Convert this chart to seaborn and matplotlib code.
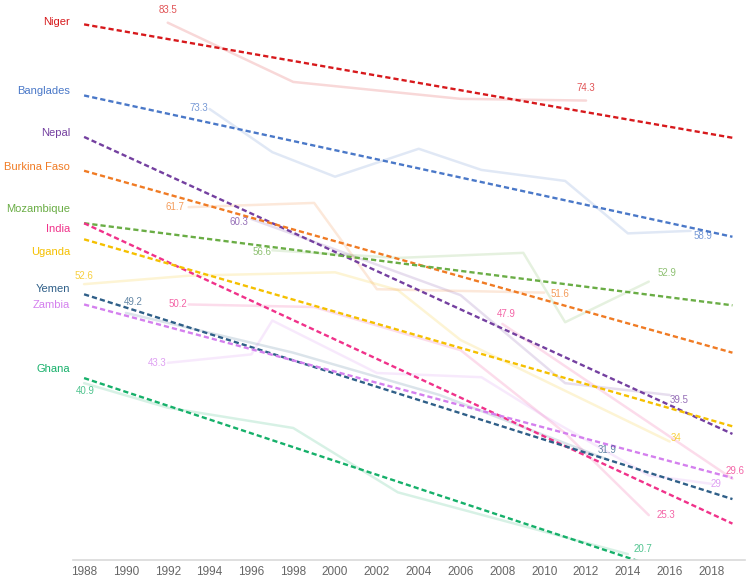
import matplotlib
matplotlib.use("Agg")
import pandas as pd
import matplotlib.pyplot as plt
import seaborn as sns

# =========================================================
# DATA
# =========================================================

countries = [
    "Niger", "Banglades", "Nepal", "Burkina Faso", "Mozambique",
    "India", "Uganda", "Yemen", "Zambia", "Ghana"
]

colors = [
    "#d7191c", "#4a78c8", "#7440a0", "#f07b24", "#6aad45",
    "#f0328a", "#f5c000", "#2f5f88", "#d480ee", "#16b06a"
]

niger_years = [1992, 1998, 2006, 2012]
niger_values = [83.5, 76.5, 74.5, 74.3]

banglades_years = [1994, 1997, 2000, 2004, 2007, 2011, 2014, 2017]
banglades_values = [73.3, 68.2, 65.3, 68.6, 66.1, 64.8, 58.6, 58.9]

nepal_years = [1996, 2001, 2006, 2011, 2016]
nepal_values = [60.3, 55.8, 51.3, 40.9, 39.5]

burkina_years = [1993, 1999, 2002, 2010]
burkina_values = [61.7, 62.2, 52.0, 51.6]

mozambique_years = [1997, 2003, 2009, 2011, 2015]
mozambique_values = [56.6, 55.7, 56.3, 48.1, 52.9]

india_years = [1993, 1999, 2006, 2011, 2015]
india_values = [50.2, 49.9, 44.8, 35.0, 25.3]

india2_years = [2008, 2019]
india2_values = [47.9, 29.6]

uganda_years = [1988, 1993, 2000, 2003, 2006, 2009, 2013, 2016]
uganda_values = [52.6, 53.6, 54.0, 51.9, 46.0, 42.4, 37.6, 34.0]

yemen_years = [1990, 1998, 2005, 2013]
yemen_values = [49.2, 44.5, 39.5, 31.9]

zambia_years = [1992, 1996, 1997, 2002, 2007, 2010, 2015, 2018]
zambia_values = [43.3, 44.3, 48.3, 42.1, 41.6, 37.0, 30.0, 29.0]

ghana_years = [1988, 1992, 1998, 2003, 2014]
ghana_values = [40.9, 38.0, 35.6, 28.0, 20.7]

# linear trend per country, 1988 -> 2019
trend_years = [1988, 2019]
trend_start = [83.3, 74.9, 70.0, 66.0, 59.8, 59.8, 57.9, 51.4, 50.2, 41.5]
trend_end = [69.9, 58.2, 34.9, 44.5, 50.1, 24.3, 35.8, 27.2, 29.7, 16.2]

year_ticks = list(range(1988, 2019, 2))

# =========================================================
# BUILD TABLES
# =========================================================

series = [
    ("Niger", niger_years, niger_values),
    ("Banglades", banglades_years, banglades_values),
    ("Nepal", nepal_years, nepal_values),
    ("Burkina Faso", burkina_years, burkina_values),
    ("Mozambique", mozambique_years, mozambique_values),
    ("India", india_years, india_values),
    ("India (2)", india2_years, india2_values),
    ("Uganda", uganda_years, uganda_values),
    ("Yemen", yemen_years, yemen_values),
    ("Zambia", zambia_years, zambia_values),
    ("Ghana", ghana_years, ghana_values),
]

color_of = dict(zip(countries, colors))
color_of["India (2)"] = color_of["India"]

actual = pd.concat(
    [pd.DataFrame({"series": name, "year": yrs, "value": vals})
     for name, yrs, vals in series],
    ignore_index=True
)

trend = pd.concat(
    [pd.DataFrame({"country": c, "year": trend_years, "value": [s, e]})
     for c, s, e in zip(countries, trend_start, trend_end)],
    ignore_index=True
)

# label offsets in pixels (dx, dy up)
name_offsets = {
    "Niger": 2, "Banglades": 4, "Nepal": 4, "Burkina Faso": 4,
    "Mozambique": 14, "India": -6, "Uganda": -13, "Yemen": 5,
    "Zambia": -1, "Ghana": 9
}

value_offsets = {
    ("Niger", 0): (0, 13), ("Niger", -1): (0, 13),
    ("Banglades", 0): (-10, 1), ("Banglades", -1): (12, -5),
    ("Nepal", 0): (-12, -3), ("Nepal", -1): (9, -5),
    ("Burkina Faso", 0): (-13, 0), ("Burkina Faso", -1): (15, -1),
    ("Mozambique", 0): (-10, -2), ("Mozambique", -1): (18, 9),
    ("India", 0): (-10, 0), ("India", -1): (17, 0),
    ("India (2)", 0): (4, 10), ("India (2)", -1): (3, 8),
    ("Uganda", 0): (0, 8), ("Uganda", -1): (10, 4),
    ("Yemen", 0): (7, 11), ("Yemen", -1): (0, 9),
    ("Zambia", 0): (-10, 0), ("Zambia", -1): (8, 0),
    ("Ghana", 0): (1, -8), ("Ghana", -1): (15, 5),
}

# =========================================================
# STYLE
# =========================================================

sns.set_style("white")
plt.rcParams["font.family"] = ["Liberation Sans", "DejaVu Sans"]

fig = plt.figure(figsize=(7.5, 5.8), dpi=100)
ax = fig.add_axes([73 / 750, 20 / 580, 672 / 750, 550 / 580])

# =========================================================
# FAINT ACTUAL LINES
# =========================================================

sns.lineplot(
    data=actual, x="year", y="value", hue="series",
    palette=color_of, estimator=None, sort=False,
    linewidth=1.8, alpha=0.17, legend=False, ax=ax
)

# =========================================================
# DASHED TREND LINES
# =========================================================

for c in countries:
    sns.lineplot(
        data=trend[trend["country"] == c], x="year", y="value",
        color=color_of[c], linewidth=1.7, linestyle=(0, (2.2, 1.3)),
        ax=ax, legend=False
    )

# =========================================================
# LABELS
# =========================================================

for c, s in zip(countries, trend_start):
    ax.annotate(
        c, xy=(trend_years[0], s), xytext=(-14, name_offsets[c]),
        textcoords="offset pixels", ha="right", va="center",
        fontsize=8, color=color_of[c], annotation_clip=False
    )

for name, yrs, vals in series:
    for i in (0, -1):
        dx, dy = value_offsets[(name, i)]
        ha = "right" if dx < -5 else ("left" if dx > 5 else "center")
        if ha == "right":
            dx += 9
        elif ha == "left":
            dx -= 9
        ax.annotate(
            f"{vals[i]:g}", xy=(yrs[i], vals[i]), xytext=(dx, dy),
            textcoords="offset pixels", ha=ha, va="center",
            fontsize=7, color=color_of[name], alpha=0.75,
            annotation_clip=False
        )

# =========================================================
# AXES
# =========================================================

ax.set_xlim(1987.47, 2019.6)
ax.set_ylim(20, 85)
ax.set_xticks(year_ticks)
ax.set_yticks([])
ax.set_xlabel("")
ax.set_ylabel("")
ax.tick_params(axis="x", length=0, pad=4, labelsize=8.5, labelcolor="#666666")

sns.despine(ax=ax, left=True)
ax.spines["bottom"].set_color("#d9d9d9")
ax.spines["bottom"].set_linewidth(1.2)

fig.savefig("out.png", dpi=100)
plt.close(fig)
